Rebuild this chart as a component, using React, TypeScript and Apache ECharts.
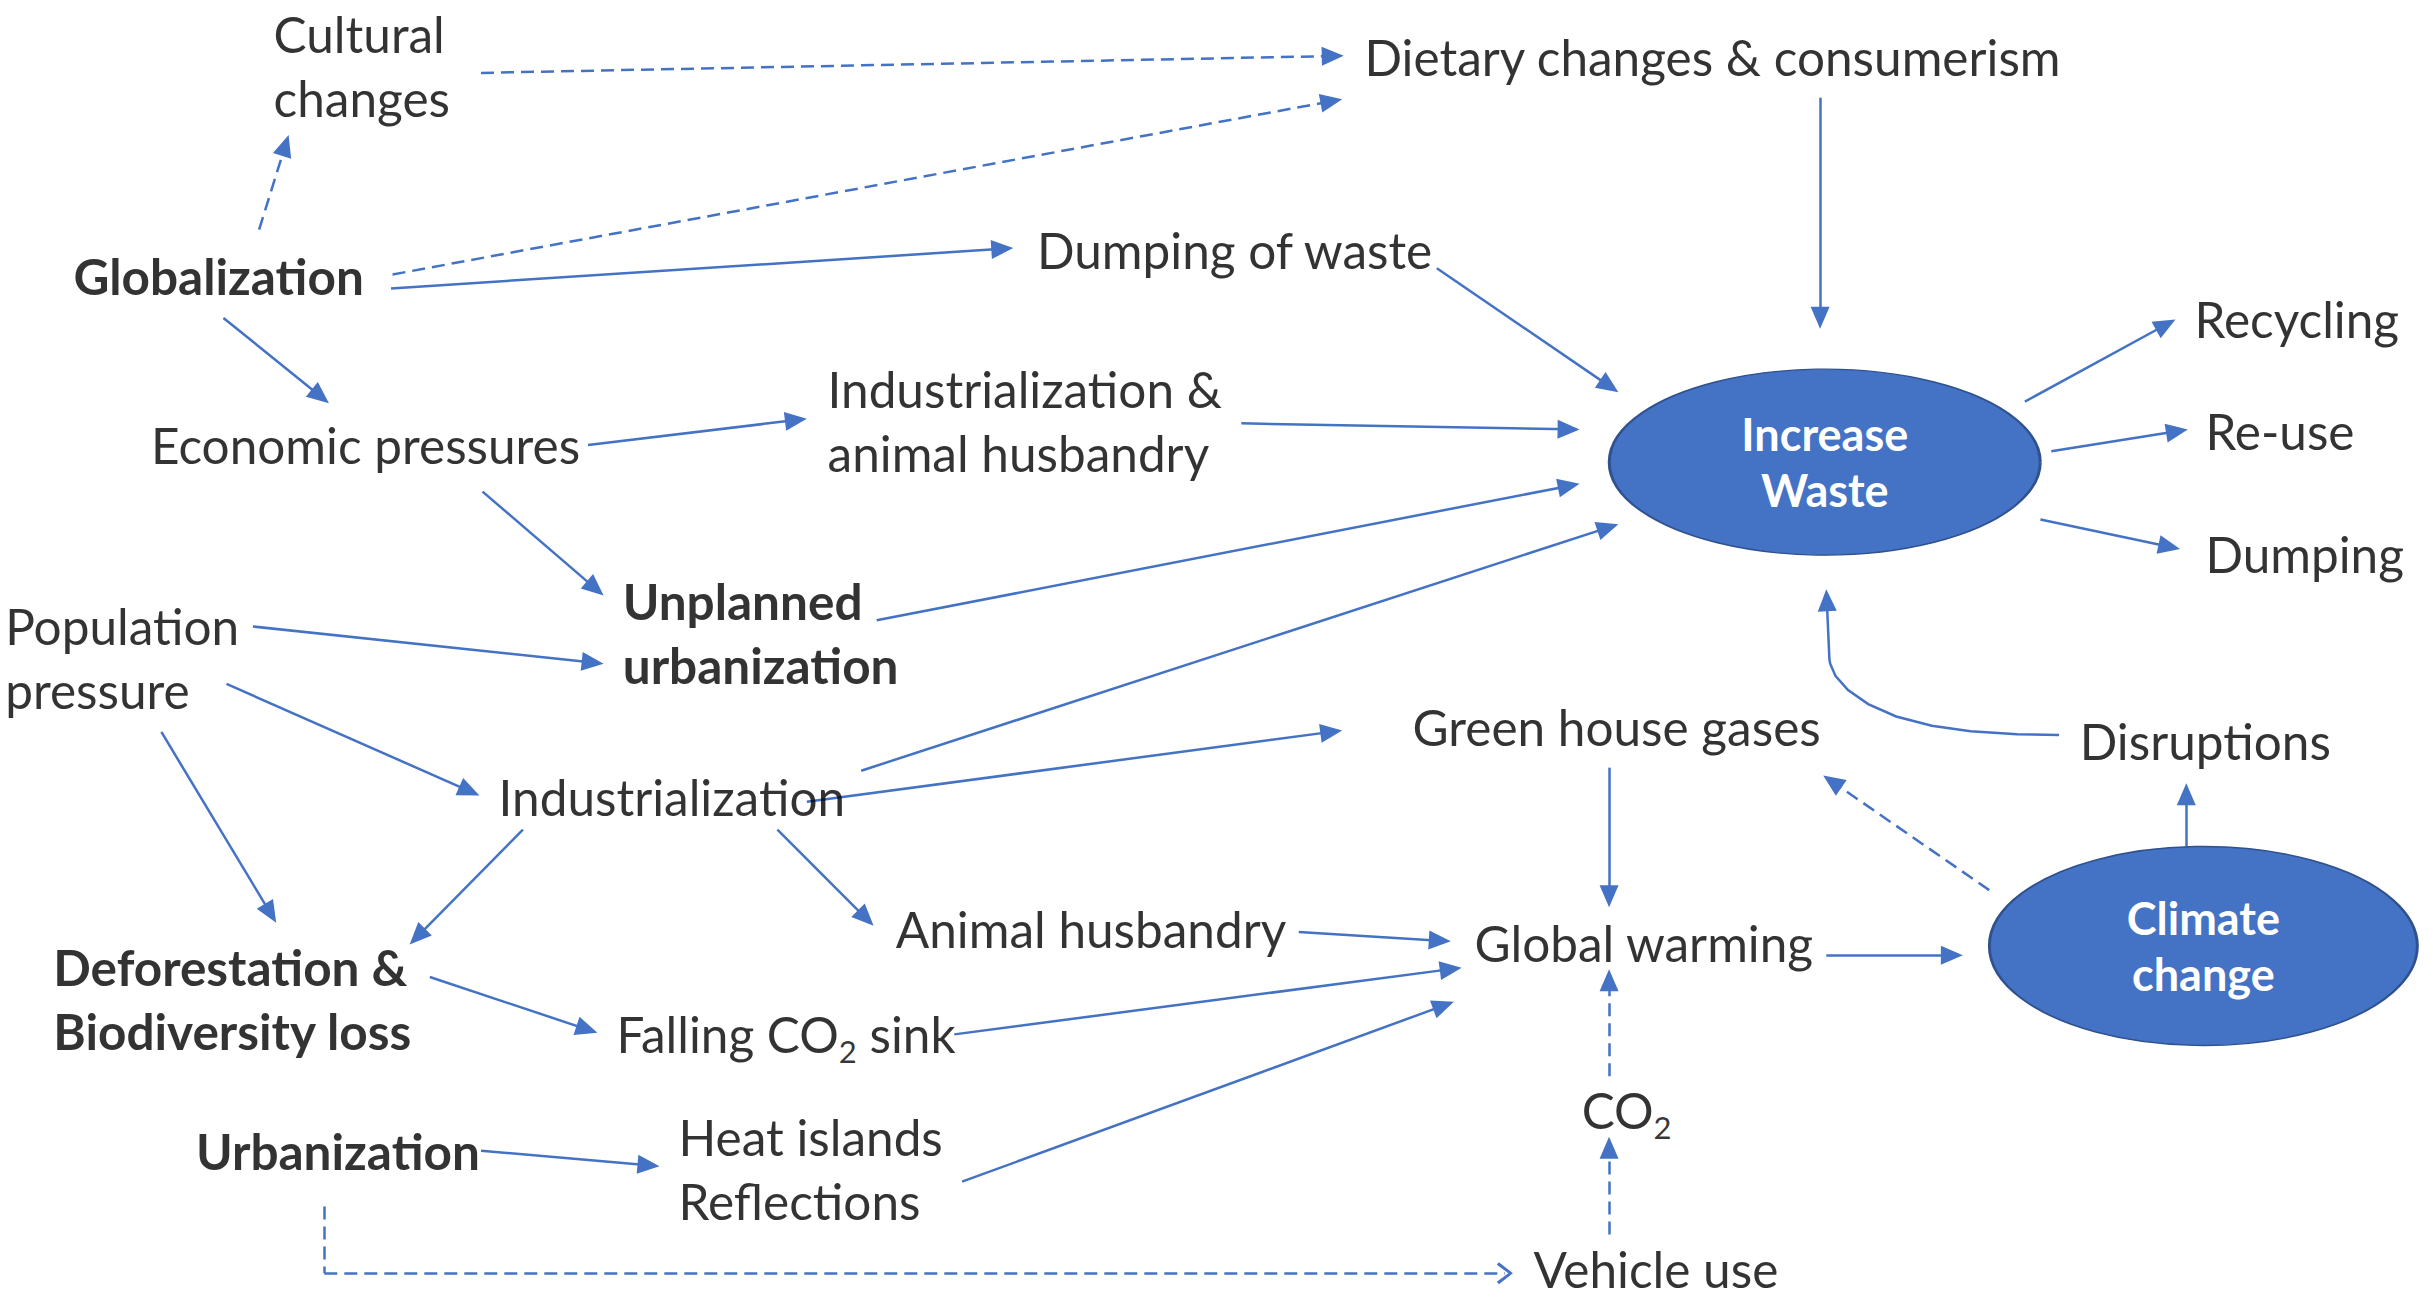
import React, { useEffect, useRef } from "react";
import * as echarts from "echarts";

// ---------- content ----------
const labels = [
  "Cultural\nchanges",
  "Dietary changes & consumerism",
  "Globalization",
  "Dumping of waste",
  "Economic pressures",
  "Industrialization &\nanimal husbandry",
  "Recycling",
  "Re-use",
  "Dumping",
  "Unplanned\nurbanization",
  "Population\npressure",
  "Green house gases",
  "Disruptions",
  "Industrialization",
  "Animal husbandry",
  "Global warming",
  "Deforestation &\nBiodiversity loss",
  "Falling CO{sub|2} sink",
  "Urbanization",
  "Heat islands\nReflections",
  "CO{sub|2}",
  "Vehicle use",
];
const boldLabels = ["Globalization", "Unplanned\nurbanization", "Deforestation &\nBiodiversity loss", "Urbanization"];
const hubLabels = ["Increase\nWaste", "Climate\nchange"];

// ---------- layout (diagram units, 1568 x 837 space) ----------
const labelAnchors = [
  [176, 42.5], [879, 37], [47, 178], [668, 161], [97, 287], [533, 271.5],
  [1414, 206], [1421, 278], [1421, 357], [401, 408.5], [3, 424.5], [910, 469],
  [1340, 478], [321, 514], [577, 599], [950, 608], [34, 644.5], [397, 667],
  [126, 742], [437, 753.5], [1019, 716], [988, 818],
];
const hubCenters = [[1176, 298], [1420, 610]];
const hubSizes = [[431, 186], [428, 199]];

const solidArrows = [
  [[252, 186], [653, 160]],
  [[144, 205], [212, 260]],
  [[1173, 63], [1173, 212]],
  [[926, 173], [1043, 253]],
  [[379, 287], [520, 270]],
  [[800, 273], [1018, 277]],
  [[311, 317], [389, 384]],
  [[565, 400], [1018, 312]],
  [[555, 497], [1043, 338]],
  [[1305, 259], [1402, 206]],
  [[1322, 291], [1410, 277]],
  [[1315, 335], [1405, 354]],
  [[163, 404], [389, 428]],
  [[146, 441], [309, 513]],
  [[104, 472], [178, 595]],
  [[337, 535], [264, 609]],
  [[520, 517], [865, 471]],
  [[501, 535], [563, 597]],
  [[837, 601], [935, 607]],
  [[277, 630], [385, 666]],
  [[615, 667], [942, 624]],
  [[620, 762], [937, 646]],
  [[310, 742], [425, 752]],
  [[1037, 495], [1037, 585]],
  [[1177, 616], [1265, 616]],
  [[1409, 546], [1409, 505]],
  [[1179, 425], [1177, 380]],
];
const dashedArrows = [
  [[167, 148], [186, 87]],
  [[310, 47], [866, 36]],
  [[253, 177], [865, 64]],
  [[1037, 796], [1037, 733]],
  [[1037, 694], [1037, 625]],
  [[1282, 574], [1175, 500]],
];
const dashedPlain = [[[209, 778], [209, 821]]];
const dashedOpenArrows = [[[209, 821], [975, 821]]];
const curvedConnector = [
  [[1327, 474], [1300, 473.5], [1270, 471.5], [1245, 468], [1222, 462], [1204, 454], [1191, 445], [1183, 436], [1179.5, 428], [1179, 425]],
];

// ---------- style ----------
const BLUE = "#4472C4";
const FONT = "Lato";
const PX = 2433 / 1568;
const ARROW = [19, 22];
const CHEVRON = [22, 16];
const CHEVRON_PATH = "path://M0,14L11,0L22,14L19.5,16L11,4.5L2.5,16Z";

function shorten(a: number[], b: number[], px: number) {
  const dx = b[0] - a[0];
  const dy = b[1] - a[1];
  const len = Math.hypot(dx, dy);
  const k = px / PX / len;
  return [b[0] - dx * k, b[1] - dy * k];
}

export default function App() {
  const ref = useRef<HTMLDivElement>(null);
  useEffect(() => {
    if (!ref.current) return;
    const chart = echarts.init(ref.current, null, { renderer: "svg" });
    const rich = {
      sub: { fontSize: 31, fontFamily: FONT, color: "#000", verticalAlign: "bottom", lineHeight: 38 },
    };
    const option: any = {
      animation: false,
      backgroundColor: "#ffffff",
      grid: { left: 0, right: 0, top: 0, bottom: 0 },
      xAxis: { type: "value", min: 0, max: 1568, show: false },
      yAxis: { type: "value", min: 0, max: 837, inverse: true, show: false },
      series: [
        {
          type: "lines",
          coordinateSystem: "cartesian2d",
          symbol: ["none", "triangle"],
          symbolSize: [ARROW, ARROW],
          lineStyle: { color: BLUE, width: 2.5, opacity: 1, type: "solid" },
          data: solidArrows.map(([a, b]) => ({ coords: [a, shorten(a, b, ARROW[1] / 2)] })),
          silent: true,
        },
        {
          type: "lines",
          coordinateSystem: "cartesian2d",
          symbol: ["none", "triangle"],
          symbolSize: [ARROW, ARROW],
          lineStyle: { color: BLUE, width: 2.5, opacity: 1, type: [13, 7] },
          data: dashedArrows.map(([a, b]) => ({ coords: [a, shorten(a, b, ARROW[1] / 2)] })),
          silent: true,
        },
        {
          type: "lines",
          coordinateSystem: "cartesian2d",
          symbol: ["none", CHEVRON_PATH],
          symbolSize: [CHEVRON, CHEVRON],
          lineStyle: { color: BLUE, width: 2.5, opacity: 1, type: [13, 7] },
          data: dashedOpenArrows.map(([a, b]) => ({ coords: [a, shorten(a, b, CHEVRON[1] / 2)] })),
          silent: true,
        },
        {
          type: "lines",
          coordinateSystem: "cartesian2d",
          symbol: "none",
          lineStyle: { color: BLUE, width: 2.5, opacity: 1, type: [13, 7] },
          data: dashedPlain.map((c) => ({ coords: c })),
          silent: true,
        },
        {
          type: "lines",
          coordinateSystem: "cartesian2d",
          polyline: true,
          symbol: "none",
          lineStyle: { color: BLUE, width: 2.5, opacity: 1, type: "solid" },
          data: curvedConnector.map((c) => ({ coords: c })),
          silent: true,
        },
        {
          type: "scatter",
          symbol: "circle",
          symbolSize: 1,
          itemStyle: { color: "rgba(0,0,0,0)" },
          silent: true,
          data: labelAnchors.map((p, i) => ({
            value: p,
            label: { fontWeight: boldLabels.includes(labels[i]) ? "bold" : "normal" },
          })),
          label: {
            show: true,
            position: "right",
            distance: 0,
            formatter: (p: any) => labels[p.dataIndex],
            color: "#000",
            fontFamily: FONT,
            fontSize: 49.5,
            lineHeight: 64,
            rich,
          },
          z: 5,
        },
        {
          type: "scatter",
          symbol: "circle",
          silent: true,
          data: hubCenters.map((p, i) => ({ value: p, symbolSize: hubSizes[i] })),
          itemStyle: { color: BLUE, borderColor: "#2F528F", borderWidth: 2, opacity: 1 },
          label: {
            show: true,
            position: "inside",
            formatter: (p: any) => hubLabels[p.dataIndex],
            color: "#ffffff",
            fontFamily: FONT,
            fontWeight: "bold",
            fontSize: 45,
            lineHeight: 56,
            align: "center",
          },
          z: 4,
        },
      ],
    };
    chart.setOption(option);
    return () => chart.dispose();
  }, []);
  return (
    <div
      ref={ref}
      style={{ position: "fixed", left: 0, top: 0, width: 2433, height: 1298, background: "#fff" }}
    />
  );
}
